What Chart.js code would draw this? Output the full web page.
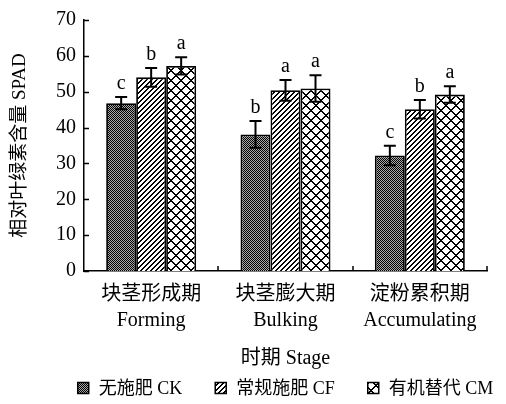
<!DOCTYPE html>
<html>
<head>
<meta charset="utf-8">
<script src="https://cdn.jsdelivr.net/npm/chart.js@4/dist/chart.umd.min.js"></script>
<style>
  html, body { margin: 0; padding: 0; background: #fff; }
  #wrap { width: 506px; height: 404px; }
</style>
</head>
<body>
<div id="wrap"><canvas id="spadChart"></canvas></div>
<script>
// 时期 / stages
const stages = [["块茎形成期", "Forming"], ["块茎膨大期", "Bulking"], ["淀粉累积期", "Accumulating"]];
const seriesNames = ["无施肥 CK", "常规施肥 CF", "有机替代 CM"];

// SPAD 平均值
const ckValues = [46.8, 38.1, 32.2];
const cfValues = [54.0, 50.4, 45.1];
const cmValues = [57.2, 50.9, 49.2];

// 标准误
const ckErrors = [1.7, 3.7, 2.7];
const cfErrors = [2.6, 2.9, 2.6];
const cmErrors = [2.4, 3.7, 2.3];

// 显著性字母
const ckLetters = ["c", "b", "c"];
const cfLetters = ["b", "a", "b"];
const cmLetters = ["a", "a", "a"];

const yMin = 0, yMax = 70, yStep = 10;

const fontFamily = '"Liberation Serif", "Noto Sans CJK SC", serif';

function makePattern(size, isDark, light) {
    const c = document.createElement("canvas");
    c.width = size; c.height = size;
    const g = c.getContext("2d");
    g.fillStyle = light || "#fff";
    g.fillRect(0, 0, size, size);
    g.fillStyle = "#000";
    for (let x = 0; x < size; x++) {
        for (let y = 0; y < size; y++) {
            if (isDark(x, y)) g.fillRect(x, y, 1, 1);
        }
    }
    return g.createPattern(c, "repeat");
}

const patCK = makePattern(2, (x, y) => (x + y) % 2 === 0, "#aaa");
const patCF = makePattern(5, (x, y) => (x + y) % 5 < 2);
const patCM = makePattern(10, (x, y) => (x + y) % 10 < 2 || (x - y + 10) % 10 < 2);

const errorBars = {
    id: "errorBars",
    afterDatasetsDraw(chart) {
        const ctx = chart.ctx;
        const y = chart.scales.y;
        ctx.save();
        ctx.strokeStyle = "#000";
        ctx.lineWidth = 2;
        ctx.fillStyle = "#000";
        ctx.font = "20px " + fontFamily;
        ctx.textAlign = "center";
        ctx.textBaseline = "alphabetic";
        chart.data.datasets.forEach((ds, i) => {
            chart.getDatasetMeta(i).data.forEach((bar, j) => {
                const v = ds.data[j], e = ds.errors[j];
                const top = y.getPixelForValue(v + e);
                const bot = y.getPixelForValue(v - e);
                ctx.beginPath();
                ctx.moveTo(bar.x, top); ctx.lineTo(bar.x, bot);
                ctx.moveTo(bar.x - 6, top); ctx.lineTo(bar.x + 6, top);
                ctx.moveTo(bar.x - 6, bot); ctx.lineTo(bar.x + 6, bot);
                ctx.stroke();
                ctx.fillText(ds.letters[j], bar.x, top - 8);
            });
        });
        ctx.restore();
    }
};

// 刻度线朝内
const innerTicks = {
    id: "innerTicks",
    afterDraw(chart) {
        const { ctx, chartArea: a, scales: { x, y } } = chart;
        ctx.save();
        ctx.strokeStyle = "#000";
        ctx.lineWidth = 1.5;
        ctx.beginPath();
        y.ticks.forEach(t => {
            const py = Math.round(y.getPixelForValue(t.value)) + 0.5;
            ctx.moveTo(a.left, py); ctx.lineTo(a.left + 5, py);
        });
        for (let i = 1; i <= x.ticks.length; i++) {
            const px = Math.round(x.getPixelForValue(i - 0.5));
            ctx.moveTo(px, a.bottom); ctx.lineTo(px, a.bottom - 5);
        }
        ctx.stroke();
        ctx.restore();
    }
};

// 图例一行居中, 间距自己排
const rowLegend = {
    id: "rowLegend",
    afterDraw(chart) {
        const { ctx, chartArea: a } = chart;
        const box = 11, gapText = 10, gapItem = 33;
        ctx.save();
        ctx.font = "18px " + fontFamily;
        ctx.textBaseline = "middle";
        ctx.textAlign = "left";
        const items = chart.data.datasets.map(ds => ({
            ds: ds,
            w: box + gapText + ctx.measureText(ds.label).width
        }));
        const total = items.reduce((s, it) => s + it.w, 0) + gapItem * (items.length - 1);
        let x = (a.left + a.right) / 2 - total / 2;
        const cy = a.bottom + 117;
        items.forEach(it => {
            ctx.fillStyle = it.ds.backgroundColor;
            ctx.fillRect(x, cy - box / 2, box, box);
            ctx.strokeStyle = "#000";
            ctx.lineWidth = 1.5;
            ctx.strokeRect(x, cy - box / 2, box, box);
            ctx.fillStyle = "#000";
            ctx.fillText(it.ds.label, x + box + gapText, cy + 1);
            x += it.w + gapItem;
        });
        ctx.restore();
    }
};

const ctx = document.getElementById("spadChart");

new Chart(ctx, {
    type: "bar",
    data: {
        labels: stages,
        datasets: [
            { label: seriesNames[0], data: ckValues, errors: ckErrors, letters: ckLetters, backgroundColor: patCK },
            { label: seriesNames[1], data: cfValues, errors: cfErrors, letters: cfLetters, backgroundColor: patCF },
            { label: seriesNames[2], data: cmValues, errors: cmErrors, letters: cmLetters, backgroundColor: patCM }
        ]
    },
    options: {
        responsive: true,
        maintainAspectRatio: false,
        animation: false,
        layout: { padding: { top: 15, right: 19, bottom: 35, left: 0 } },
        datasets: {
            bar: { categoryPercentage: 0.67, barPercentage: 1, borderColor: "#000", borderWidth: 1.8 }
        },
        plugins: {
            tooltip: { enabled: false },
            legend: { display: false }
        },
        scales: {
            x: {
                grid: { display: false, drawTicks: false },
                border: { display: true, color: "#000", width: 1.5 },
                ticks: {
                    color: "#000",
                    padding: 11,
                    maxRotation: 0,
                    font: { family: fontFamily, size: 20, lineHeight: 1.3 }
                },
                title: {
                    display: true,
                    text: "时期 Stage",
                    color: "#000",
                    font: { family: fontFamily, size: 20 },
                    padding: { top: 0, bottom: -2 }
                },
                afterFit(scale) { scale.height = 98; }
            },
            y: {
                min: yMin,
                max: yMax,
                grid: { display: false, drawTicks: false },
                border: { display: true, color: "#000", width: 1.5 },
                ticks: {
                    stepSize: yStep,
                    color: "#000",
                    padding: 8,
                    font: { family: fontFamily, size: 20 }
                },
                title: {
                    display: true,
                    text: "相对叶绿素含量 SPAD",
                    color: "#000",
                    font: { family: fontFamily, size: 19 },
                    padding: { top: 9, bottom: 0 }
                },
                afterFit(scale) { scale.width = 84; }
            }
        }
    },
    plugins: [errorBars, innerTicks, rowLegend]
});
</script>
</body>
</html>
